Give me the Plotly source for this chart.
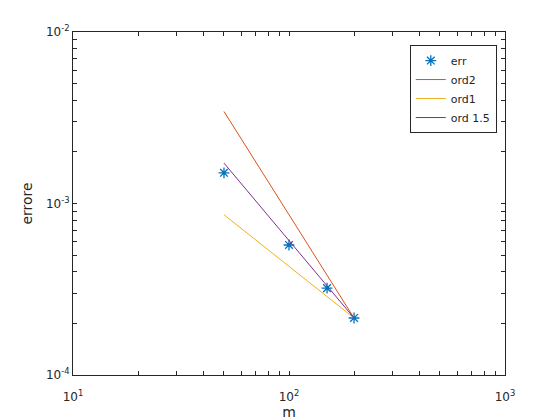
import plotly.graph_objects as go

# data
m = [50, 100, 150, 200]
err = [1.51e-3, 5.73e-4, 3.21e-4, 2.15e-4]
ord2 = [3.44e-3, 8.6e-4, 3.82e-4, 2.15e-4]
ord1 = [8.6e-4, 4.3e-4, 2.87e-4, 2.15e-4]
ord15 = [1.72e-3, 6.08e-4, 3.31e-4, 2.15e-4]

x_major = [10, 100, 1000]
x_labels = ["10<sup>1</sup>", "10<sup>2</sup>", "10<sup>3</sup>"]
y_major = [1e-4, 1e-3, 1e-2]
y_labels = ["10<sup>-4</sup>", "10<sup>-3</sup>", "10<sup>-2</sup>"]


def log_ticks(major, labels):
    # major ticks with labels, plus unlabelled 2..9 minor ticks in each decade
    vals, text = [], []
    for i, v in enumerate(major):
        vals.append(v)
        text.append(labels[i])
        if i < len(major) - 1:
            for k in range(2, 10):
                vals.append(v * k)
                text.append("")
    return vals, text


xv, xt = log_ticks(x_major, x_labels)
yv, yt = log_ticks(y_major, y_labels)

fig = go.Figure()
fig.add_trace(go.Scatter(x=m, y=err, mode="markers", name="err",
                         marker=dict(symbol="asterisk-open", size=9, color="#0072BD",
                                     line=dict(color="#0072BD", width=1.3))))
fig.add_trace(go.Scatter(x=m, y=ord2, mode="lines", name="ord2",
                         line=dict(color="#D95319", width=1)))
fig.add_trace(go.Scatter(x=m, y=ord1, mode="lines", name="ord1",
                         line=dict(color="#EDB120", width=1)))
fig.add_trace(go.Scatter(x=m, y=ord15, mode="lines", name="ord 1.5",
                         line=dict(color="#7E2F8E", width=1)))

axis_style = dict(type="log", showgrid=False, zeroline=False, showline=True,
                  linecolor="#262626", linewidth=1, mirror="ticks",
                  ticks="inside", ticklen=4, tickcolor="#262626",
                  automargin=False,
                  tickfont=dict(size=12, color="#262626"))

fig.update_xaxes(axis_style, range=[1, 3], tickvals=xv, ticktext=xt,
                 ticklabelstandoff=11,
                 title=dict(text="m", font=dict(size=14, color="#262626"), standoff=3))
fig.update_yaxes(axis_style, range=[-4, -2], tickvals=yv, ticktext=yt,
                 title=dict(text="errore", font=dict(size=14, color="#262626"), standoff=10))

fig.update_layout(
    width=552, height=412,
    margin=dict(l=65, r=55, t=24, b=45),
    paper_bgcolor="white", plot_bgcolor="white",
    font=dict(family="DejaVu Sans", color="#262626"),
    legend=dict(x=0.981, y=0.962, xanchor="right", yanchor="top",
                bordercolor="#262626", borderwidth=1, bgcolor="white",
                font=dict(size=11), tracegroupgap=0, itemwidth=30),
)

fig.write_html("out.html")
